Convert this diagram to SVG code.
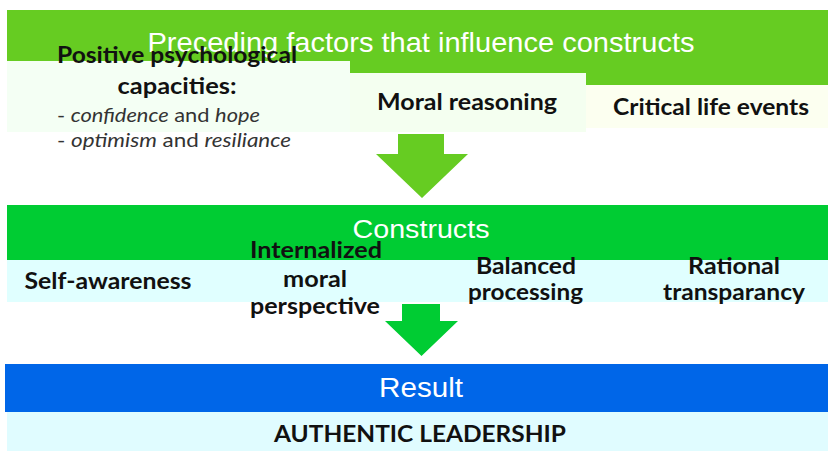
<svg xmlns="http://www.w3.org/2000/svg" width="828" height="451" viewBox="0 0 828 451">
<style>
.hdr{font-family:"Liberation Sans",Arial,sans-serif;fill:#ffffff;text-anchor:middle}
.lbl{font-family:Lato,"Open Sans",sans-serif;font-weight:bold;fill:#111111;text-anchor:middle;font-size:22px}
.reg{font-family:Lato,"Open Sans",sans-serif;fill:#333333;font-size:19px}
.it{font-style:italic}
</style>
<rect width="828" height="451" fill="#ffffff"/>
<g id="preceding-header">
<rect x="7" y="10" width="821" height="75" fill="#66CC22"/>
<text class="hdr" x="421" y="52" font-size="28" textLength="547" lengthAdjust="spacingAndGlyphs">Preceding factors that influence constructs</text>
</g>
<g id="positive-capacities">
<rect x="7" y="61" width="343" height="71" fill="#F4FFF4"/>
<text class="lbl" x="177" y="63" textLength="240" lengthAdjust="spacingAndGlyphs">Positive psychological</text>
<text class="lbl" x="177" y="94" textLength="119" lengthAdjust="spacingAndGlyphs">capacities:</text>
<text class="reg" x="57" y="122" textLength="203" lengthAdjust="spacingAndGlyphs">- <tspan class="it">confidence</tspan> and <tspan class="it">hope</tspan></text>
<text class="reg" x="57" y="147" textLength="234" lengthAdjust="spacingAndGlyphs">- <tspan class="it">optimism</tspan> and <tspan class="it">resiliance</tspan></text>
</g>
<g id="moral-reasoning">
<rect x="350" y="73" width="236" height="59" fill="#F4FFF0"/>
<text class="lbl" x="467" y="110" textLength="180" lengthAdjust="spacingAndGlyphs">Moral reasoning</text>
</g>
<g id="critical-life-events">
<rect x="586" y="85" width="242" height="43" fill="#FCFFF0"/>
<text class="lbl" x="711" y="115" textLength="196" lengthAdjust="spacingAndGlyphs">Critical life events</text>
</g>
<g id="connectors">
<polygon points="398,134 444,134 444,154 468,154 422,198 376,154 398,154" fill="#66CC22"/>
<polygon points="402,304 440,304 440,321 458,321 421.5,356 385,321 402,321" fill="#00CC33"/>
</g>
<g id="constructs-header">
<rect x="7" y="205" width="821" height="55" fill="#00CC33"/>
<text class="hdr" x="421" y="238" font-size="25" textLength="137" lengthAdjust="spacingAndGlyphs">Constructs</text>
</g>
<g id="self-awareness">
<rect x="7" y="260" width="205" height="42" fill="#E0FFFF"/>
<text class="lbl" x="108" y="289" textLength="167" lengthAdjust="spacingAndGlyphs">Self-awareness</text>
</g>
<g id="internalized-moral-perspective">
<rect x="212" y="260" width="209" height="42" fill="#E0FFFF"/>
<text class="lbl" x="316" y="258" textLength="132" lengthAdjust="spacingAndGlyphs">Internalized</text>
<text class="lbl" x="315" y="287" textLength="64" lengthAdjust="spacingAndGlyphs">moral</text>
<text class="lbl" x="315" y="314" textLength="130" lengthAdjust="spacingAndGlyphs">perspective</text>
</g>
<g id="balanced-processing">
<rect x="421" y="260" width="208" height="42" fill="#E0FFFF"/>
<text class="lbl" x="526" y="274" textLength="100" lengthAdjust="spacingAndGlyphs">Balanced</text>
<text class="lbl" x="525.5" y="300" textLength="115" lengthAdjust="spacingAndGlyphs">processing</text>
</g>
<g id="rational-transparancy">
<rect x="629" y="260" width="199" height="42" fill="#E0FFFF"/>
<text class="lbl" x="734" y="274" textLength="92" lengthAdjust="spacingAndGlyphs">Rational</text>
<text class="lbl" x="734" y="300" textLength="142" lengthAdjust="spacingAndGlyphs">transparancy</text>
</g>
<g id="result-header">
<rect x="5" y="364" width="823" height="48" fill="#0066E8"/>
<text class="hdr" x="421" y="397" font-size="27" textLength="84" lengthAdjust="spacingAndGlyphs">Result</text>
</g>
<g id="authentic-leadership">
<rect x="7" y="412" width="821" height="39" fill="#E0FCFF"/>
<text class="lbl" x="420" y="442" font-size="24" textLength="292" lengthAdjust="spacingAndGlyphs">AUTHENTIC LEADERSHIP</text>
</g>
</svg>
